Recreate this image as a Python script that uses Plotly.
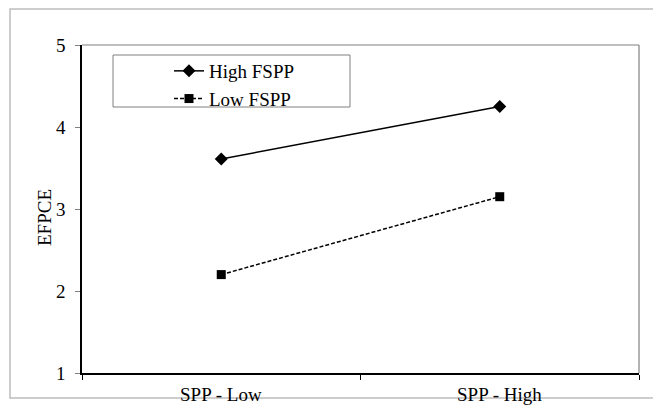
import plotly.graph_objects as go

categories = ["SPP - Low", "SPP - High"]
high_fspp = [3.61, 4.25]
low_fspp = [2.20, 3.15]
y_ticks = [1, 2, 3, 4, 5]

# page has an 8px body margin; work in page pixels and convert
OFF = 8
W, H = 661 - OFF, 408 - OFF
L, R, T, B = 82 - OFF, 22, 45 - OFF, 35
pw, ph = W - L - R, H - T - B

def px_x(px):
    return (px - OFF - L) / pw

def px_y(py):
    return (H - B - (py - OFF)) / ph

FONT = "Liberation Serif"
TXT = dict(family=FONT, size=19, color="black")

fig = go.Figure()
fig.add_trace(go.Scatter(
    x=categories, y=high_fspp, name="High FSPP", mode="lines+markers",
    line=dict(color="black", width=1.5),
    marker=dict(symbol="diamond", size=10, color="black"),
))
fig.add_trace(go.Scatter(
    x=categories, y=low_fspp, name="Low FSPP", mode="lines+markers",
    line=dict(color="black", width=1.5, dash="4px,2px"),
    marker=dict(symbol="square", size=9, color="black"),
))

fig.update_layout(
    template="none",
    width=W, height=H,
    margin=dict(l=L, r=R, t=T, b=B),
    paper_bgcolor="white", plot_bgcolor="white",
    font=TXT,
    showlegend=True,
    legend=dict(
        x=px_x(169), y=px_y(52), xanchor="left", yanchor="top",
        bgcolor="rgba(0,0,0,0)", borderwidth=0,
        font=TXT, tracegroupgap=0,
        itemwidth=30,
    ),
    xaxis=dict(
        type="category", range=[-0.5, 1.5],
        showline=True, linecolor="black", linewidth=1.5,
        ticks="outside", ticklen=5, tickcolor="black",
        tickmode="array", tickvals=[-0.5, 0.5, 1.5], ticktext=["", "", ""],
        showgrid=False, zeroline=False, fixedrange=True,
    ),
    yaxis=dict(
        range=[1, 5], tickvals=y_ticks,
        showline=True, linecolor="black", linewidth=1.5,
        ticks="outside", ticklen=5, tickcolor="gray",
        ticklabelstandoff=6, tickfont=TXT,
        showgrid=False, zeroline=False,
    ),
    shapes=[
        # outer chart border
        dict(type="rect", xref="paper", yref="paper",
             x0=px_x(10), x1=px_x(664), y0=px_y(398), y1=px_y(9),
             line=dict(color="#bdbdbd", width=1.5), layer="below"),
        # plot area top and right border
        dict(type="line", xref="paper", yref="paper",
             x0=0, x1=1, y0=1, y1=1, line=dict(color="#808080", width=1.2)),
        dict(type="line", xref="paper", yref="paper",
             x0=1, x1=1, y0=0, y1=1, line=dict(color="#808080", width=1.2)),
        # legend box
        dict(type="rect", xref="paper", yref="paper",
             x0=px_x(113), x1=px_x(350), y0=px_y(107), y1=px_y(55),
             line=dict(color="#808080", width=1), fillcolor="white", layer="below"),
    ],
    annotations=[
        dict(text=c, x=i, y=0, xref="x", yref="paper", yanchor="top",
             yshift=-9, showarrow=False, font=TXT)
        for i, c in enumerate(categories)
    ] + [
        dict(text="EFPCE", textangle=-90, xref="paper", yref="paper",
             x=px_x(44), y=px_y(218), xanchor="center", yanchor="middle",
             showarrow=False, font=TXT),
    ],
)

fig.write_html("out.html")
